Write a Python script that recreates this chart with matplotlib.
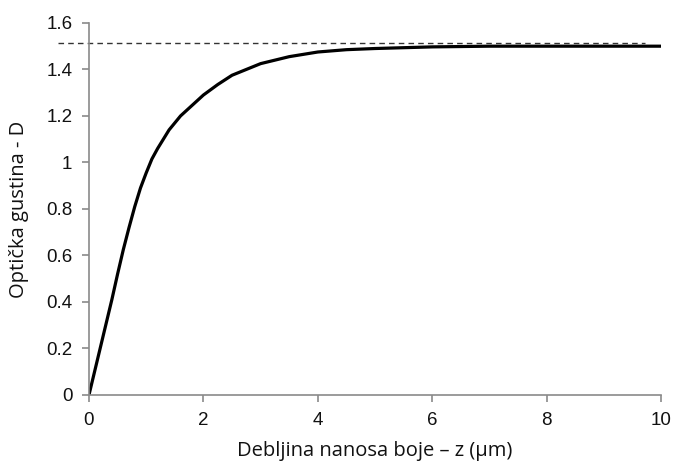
import numpy as np
import matplotlib.pyplot as plt

# thickness of ink layer (um) and resulting optical density
z = [0, 0.2, 0.4, 0.5, 0.6, 0.7, 0.8, 0.9, 1.0, 1.1, 1.2, 1.4, 1.6, 1.8,
     2.0, 2.25, 2.5, 2.75, 3.0, 3.5, 4.0, 4.5, 5.0, 6.0, 7.0, 8.0, 9.0, 10.0]
D = [0, 0.205, 0.41, 0.52, 0.625, 0.72, 0.81, 0.89, 0.955, 1.015, 1.06,
     1.14, 1.20, 1.245, 1.29, 1.335, 1.375, 1.40, 1.425, 1.455, 1.475,
     1.485, 1.49, 1.497, 1.50, 1.50, 1.50, 1.50]
D_max = 1.512

fig = plt.figure(figsize=(6.74, 4.68), dpi=100)
ax = fig.add_axes([0.132, 0.156, 0.849, 0.795])

ax.plot(z, D, color="black", lw=2.3, solid_joinstyle="round")
ax.plot([-0.54, 9.72], [D_max, D_max], color="#333333", lw=1, ls=(0, (4, 3)),
        clip_on=False)

ax.set_xlim(0, 10)
ax.set_ylim(0, 1.6)
ax.set_xticks([0, 2, 4, 6, 8, 10])
ax.set_yticks([0, 0.2, 0.4, 0.6, 0.8, 1.0, 1.2, 1.4, 1.6])
ax.set_xticklabels(["0", "2", "4", "6", "8", "10"])
ax.set_yticklabels(["0", "0.2", "0.4", "0.6", "0.8", "1", "1.2", "1.4", "1.6"])

for s in ["top", "right"]:
    ax.spines[s].set_visible(False)
for s in ["left", "bottom"]:
    ax.spines[s].set_color("#8a8a8a")
    ax.spines[s].set_linewidth(1.2)
ax.tick_params(direction="out", length=5, width=1.2, color="#8a8a8a",
               labelsize=13.5, labelcolor="#111111", pad=7)
for lab in ax.get_xticklabels() + ax.get_yticklabels():
    lab.set_family("Liberation Sans")

ax.set_xlabel("Debljina nanosa boje – z (µm)", fontsize=14.5,
              family="Open Sans", color="#111111", labelpad=9)
ax.set_ylabel("Optička gustina - D", fontsize=14.5,
              family="Open Sans", color="#111111", labelpad=12)

fig.savefig("out.png", dpi=100)
